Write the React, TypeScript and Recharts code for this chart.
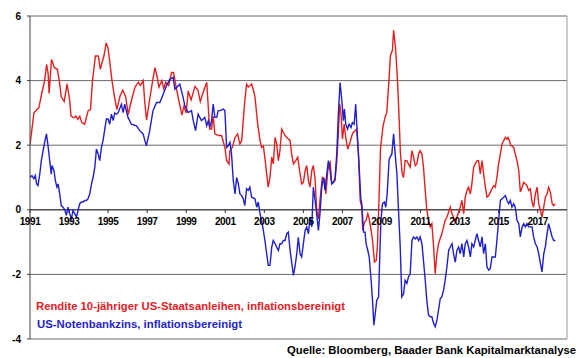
import React from 'react';
import { LineChart, Line, XAxis, YAxis, CartesianGrid, ReferenceLine, ReferenceDot } from 'recharts';

const FONT = '"Liberation Sans", Arial, Helvetica, sans-serif';

const xTickYears = [1991, 1993, 1995, 1997, 1999, 2001, 2003, 2005, 2007, 2009, 2011, 2013, 2015, 2017];
const yTicks = [-4, -2, 0, 2, 4, 6];
const xDomain = [1991, 2018.5];
const yDomain = [-4, 6];

const redName = 'Rendite 10-jähriger US-Staatsanleihen, inflationsbereinigt';
const blueName = 'US-Notenbankzins, inflationsbereinigt';
const sourceText = 'Quelle: Bloomberg, Baader Bank Kapitalmarktanalyse';

// [year, value] – real yield of 10y US Treasuries
const redSeries: [number, number][] = [
  [1991.0, 2.0], [1991.2, 3.0], [1991.35, 3.1], [1991.45, 3.15], [1991.6, 3.6], [1991.75, 4.0], [1991.85, 4.5],
  [1991.93, 4.2], [1991.98, 3.6], [1992.1, 4.65], [1992.25, 4.4], [1992.4, 4.35], [1992.5, 4.0], [1992.6, 3.5],
  [1992.75, 3.35], [1992.9, 3.9], [1993.03, 3.4], [1993.1, 2.9], [1993.25, 2.85], [1993.35, 2.9], [1993.45, 2.8],
  [1993.55, 2.9], [1993.65, 2.7], [1993.8, 2.65], [1993.98, 3.07], [1994.1, 3.1], [1994.2, 4.0], [1994.35, 4.76],
  [1994.5, 4.76], [1994.6, 4.35], [1994.8, 4.8], [1994.9, 5.17], [1995.0, 5.0], [1995.1, 4.5], [1995.2, 4.0],
  [1995.3, 3.6], [1995.45, 3.1], [1995.6, 3.5], [1995.75, 3.7], [1995.9, 3.5], [1996.03, 2.95], [1996.2, 3.4],
  [1996.38, 3.8], [1996.55, 3.95], [1996.65, 3.85], [1996.8, 4.0], [1996.88, 3.3], [1996.97, 2.78], [1997.15, 3.5],
  [1997.3, 4.07], [1997.4, 4.4], [1997.5, 4.15], [1997.6, 3.8], [1997.75, 4.0], [1997.85, 3.75], [1997.95, 3.95],
  [1998.1, 3.85], [1998.25, 4.25], [1998.35, 4.25], [1998.5, 3.75], [1998.65, 3.3], [1998.78, 2.93], [1998.88, 3.2],
  [1999.0, 3.0], [1999.1, 3.68], [1999.25, 3.4], [1999.45, 3.82], [1999.6, 3.7], [1999.72, 3.35], [1999.85, 3.6],
  [2000.05, 3.95], [2000.2, 2.5], [2000.3, 2.5], [2000.38, 2.9], [2000.47, 2.35], [2000.64, 2.3], [2000.81, 2.3],
  [2000.98, 1.93], [2001.07, 1.52], [2001.19, 1.42], [2001.24, 1.83], [2001.36, 1.93], [2001.5, 2.24], [2001.63, 2.35],
  [2001.75, 2.04], [2001.84, 2.14], [2002.0, 3.37], [2002.09, 3.89], [2002.18, 3.8], [2002.26, 3.84], [2002.35, 3.89],
  [2002.44, 3.7], [2002.52, 3.5], [2002.66, 2.65], [2002.78, 2.14], [2002.86, 1.93], [2002.95, 1.98], [2003.05, 1.5],
  [2003.12, 1.11], [2003.2, 0.7], [2003.29, 1.0], [2003.38, 1.63], [2003.46, 1.42], [2003.55, 2.24], [2003.63, 2.04],
  [2003.72, 1.52], [2003.8, 1.83], [2003.89, 2.5], [2003.97, 2.4], [2004.06, 2.3], [2004.23, 2.19], [2004.32, 2.14],
  [2004.4, 1.73], [2004.49, 1.42], [2004.61, 1.52], [2004.71, 1.63], [2004.83, 1.11], [2004.91, 0.8], [2005.0, 0.85],
  [2005.09, 1.21], [2005.17, 1.37], [2005.26, 0.9], [2005.34, 0.7], [2005.43, 1.21], [2005.51, 1.37], [2005.6, 0.96],
  [2005.68, 0.0], [2005.77, -0.28], [2005.85, 0.29], [2005.97, 1.0], [2006.08, 0.96], [2006.15, 0.49], [2006.25, 1.21],
  [2006.32, 1.42], [2006.37, 1.47], [2006.45, 0.85], [2006.54, 0.85], [2006.62, 0.9], [2006.71, 1.52], [2006.79, 2.35],
  [2006.86, 3.27], [2006.93, 2.96], [2007.0, 2.19], [2007.09, 2.65], [2007.17, 2.24], [2007.27, 1.88], [2007.39, 2.09],
  [2007.48, 2.29], [2007.56, 2.4], [2007.65, 2.45], [2007.73, 2.5], [2007.82, 1.73], [2007.91, 0.29], [2007.99, 0.08],
  [2008.04, -0.64], [2008.13, -0.38], [2008.21, -0.33], [2008.3, -0.12], [2008.37, -0.28], [2008.47, -0.64],
  [2008.54, -0.95], [2008.64, -1.62], [2008.73, -1.57], [2008.79, -1.15], [2008.85, -0.12], [2008.95, 1.9],
  [2009.08, 2.6], [2009.2, 2.9], [2009.27, 3.0], [2009.36, 3.8], [2009.46, 4.78], [2009.56, 4.94], [2009.62, 5.56],
  [2009.72, 5.0], [2009.82, 4.0], [2009.9, 2.87], [2009.97, 1.75], [2010.06, 1.11], [2010.13, 1.0], [2010.21, 1.52],
  [2010.3, 1.52], [2010.38, 1.42], [2010.47, 1.32], [2010.56, 1.83], [2010.64, 1.63], [2010.73, 1.37], [2010.81, 1.42],
  [2010.9, 1.73], [2010.98, 1.83], [2011.07, 1.73], [2011.15, 1.32], [2011.24, 0.6], [2011.32, 0.0], [2011.41, -0.33],
  [2011.5, -0.53], [2011.58, -0.43], [2011.67, -1.15], [2011.75, -1.98], [2011.84, -1.36], [2011.92, -1.05],
  [2012.0, -0.9], [2012.09, -0.74], [2012.18, -0.53], [2012.26, -0.33], [2012.35, -0.23], [2012.44, -0.07],
  [2012.52, 0.08], [2012.61, -0.12], [2012.69, -0.23], [2012.78, -0.43], [2012.86, -0.23], [2012.95, -0.07],
  [2013.03, 0.08], [2013.12, 0.29], [2013.21, -0.12], [2013.29, 0.39], [2013.38, 0.6], [2013.46, 0.7], [2013.55, 0.49],
  [2013.63, 0.8], [2013.72, 1.32], [2013.8, 1.42], [2013.89, 1.52], [2013.97, 1.52], [2014.06, 1.11], [2014.15, 1.52],
  [2014.23, 1.11], [2014.32, 0.7], [2014.4, 0.39], [2014.49, 0.44], [2014.57, 0.54], [2014.66, 0.65], [2014.74, 0.75],
  [2014.83, 0.7], [2014.91, 1.0], [2015.0, 1.42], [2015.09, 1.73], [2015.17, 2.04], [2015.26, 2.14], [2015.34, 2.24],
  [2015.43, 2.19], [2015.48, 2.24], [2015.55, 2.14], [2015.63, 1.98], [2015.68, 1.98], [2015.77, 1.93], [2015.85, 1.73],
  [2015.94, 1.52], [2016.03, 1.21], [2016.11, 0.55], [2016.2, 0.7], [2016.28, 0.85], [2016.37, 0.8], [2016.45, 0.75],
  [2016.54, 0.6], [2016.62, 0.65], [2016.71, 0.24], [2016.79, 0.08], [2016.88, 0.49], [2016.97, 0.7], [2017.05, 0.19],
  [2017.14, -0.02], [2017.22, -0.23], [2017.31, 0.08], [2017.39, 0.39], [2017.48, 0.49], [2017.56, 0.7], [2017.65, 0.54],
  [2017.74, 0.19], [2017.82, 0.13], [2017.9, 0.19],
];

// [year, value] – real Fed funds rate
const blueSeries: [number, number][] = [
  [1991.0, 1.0], [1991.1, 1.06], [1991.2, 0.96], [1991.27, 1.06], [1991.34, 0.8], [1991.41, 0.75], [1991.5, 1.1],
  [1991.58, 1.52], [1991.67, 1.83], [1991.75, 2.09], [1991.84, 2.35], [1991.92, 2.0], [1992.01, 1.52], [1992.09, 1.1],
  [1992.13, 1.37], [1992.23, 1.21], [1992.3, 0.9], [1992.38, 0.7], [1992.44, 0.8], [1992.52, 0.49], [1992.6, 0.13],
  [1992.69, 0.08], [1992.78, 0.0], [1992.86, -0.17], [1992.95, 0.08], [1993.03, -0.12], [1993.12, -0.28],
  [1993.2, -0.02], [1993.29, -0.12], [1993.38, -0.23], [1993.46, -0.02], [1993.55, 0.19], [1993.63, 0.24],
  [1993.72, 0.24], [1993.8, 0.29], [1993.89, 0.29], [1993.97, 0.34], [1994.06, 0.49], [1994.15, 0.8], [1994.23, 1.0],
  [1994.32, 1.32], [1994.4, 1.88], [1994.49, 1.73], [1994.57, 1.52], [1994.66, 1.93], [1994.74, 2.14], [1994.83, 2.5],
  [1994.91, 2.81], [1995.0, 2.81], [1995.08, 2.65], [1995.17, 2.96], [1995.26, 2.76], [1995.34, 3.0], [1995.43, 2.96],
  [1995.51, 3.0], [1995.68, 3.27], [1995.77, 3.01], [1995.85, 3.27], [1996.02, 2.86], [1996.19, 2.65], [1996.45, 2.6],
  [1996.62, 2.45], [1996.79, 2.35], [1996.96, 1.98], [1997.13, 2.45], [1997.3, 3.07], [1997.48, 3.32], [1997.65, 3.32],
  [1997.82, 3.58], [1997.99, 3.84], [1998.16, 4.04], [1998.33, 4.1], [1998.42, 3.73], [1998.59, 3.84], [1998.67, 3.89],
  [1998.84, 3.48], [1998.93, 3.22], [1999.1, 3.01], [1999.27, 3.07], [1999.36, 2.76], [1999.48, 2.45], [1999.61, 2.96],
  [1999.78, 2.76], [1999.95, 2.86], [2000.05, 2.6], [2000.13, 2.76], [2000.21, 2.55], [2000.3, 2.76], [2000.38, 3.27],
  [2000.47, 2.86], [2000.56, 2.86], [2000.64, 3.07], [2000.73, 3.07], [2000.9, 3.12], [2000.98, 3.07], [2001.07, 1.93],
  [2001.15, 1.98], [2001.24, 2.09], [2001.32, 1.73], [2001.41, 0.9], [2001.5, 0.49], [2001.58, 1.0], [2001.67, 0.8],
  [2001.75, 0.49], [2001.84, 0.44], [2001.92, 0.34], [2002.0, 0.13], [2002.09, 0.65], [2002.18, 0.6], [2002.26, 0.7],
  [2002.35, 0.39], [2002.52, 0.34], [2002.61, 0.08], [2002.69, 0.24], [2002.78, -0.12], [2002.86, -0.33],
  [2002.95, -0.64], [2003.03, -0.95], [2003.12, -1.36], [2003.2, -1.72], [2003.29, -1.72], [2003.38, -1.15],
  [2003.46, -0.95], [2003.55, -1.05], [2003.63, -1.15], [2003.72, -1.26], [2003.8, -1.05], [2003.89, -1.05],
  [2003.97, -0.95], [2004.06, -0.95], [2004.15, -0.74], [2004.23, -0.69], [2004.32, -1.26], [2004.4, -1.62],
  [2004.49, -2.03], [2004.57, -1.77], [2004.66, -1.36], [2004.74, -0.85], [2004.83, -1.36], [2004.91, -1.46],
  [2005.0, -1.05], [2005.09, -0.64], [2005.17, -0.53], [2005.26, -0.74], [2005.34, -0.23], [2005.43, -0.53],
  [2005.51, 0.7], [2005.6, 0.29], [2005.68, -0.12], [2005.77, -0.64], [2005.85, -0.12], [2005.94, 0.7], [2006.03, 1.0],
  [2006.11, 0.6], [2006.2, 1.11], [2006.28, 1.52], [2006.37, 1.21], [2006.45, 0.8], [2006.54, 0.85], [2006.62, 0.96],
  [2006.71, 1.73], [2006.79, 2.96], [2006.88, 3.94], [2006.97, 3.37], [2007.05, 2.76], [2007.1, 3.12], [2007.17, 2.65],
  [2007.26, 2.5], [2007.34, 2.65], [2007.44, 2.55], [2007.51, 2.7], [2007.6, 2.65], [2007.68, 3.27], [2007.77, 2.24],
  [2007.85, 1.42], [2007.94, 0.34], [2007.99, 0.19], [2008.08, -0.69], [2008.16, -0.69], [2008.21, -1.05],
  [2008.3, -1.26], [2008.37, -1.46], [2008.47, -2.18], [2008.54, -2.8], [2008.61, -3.57], [2008.68, -3.21],
  [2008.76, -2.8], [2008.85, -2.7], [2008.9, -1.67], [2008.97, -0.33], [2009.05, 0.19], [2009.15, 0.24],
  [2009.22, 0.08], [2009.29, 0.49], [2009.39, 1.55], [2009.44, 1.63], [2009.53, 1.73], [2009.62, 2.35], [2009.7, 1.73],
  [2009.79, 1.11], [2009.87, 0.0], [2009.96, -1.15], [2010.04, -2.7], [2010.13, -2.6], [2010.21, -2.18],
  [2010.3, -2.28], [2010.38, -2.08], [2010.47, -1.98], [2010.56, -0.95], [2010.64, -0.84], [2010.73, -0.9],
  [2010.81, -0.84], [2010.9, -0.95], [2010.98, -0.84], [2011.07, -1.05], [2011.15, -1.57], [2011.24, -2.18],
  [2011.32, -2.8], [2011.41, -3.26], [2011.5, -3.31], [2011.58, -3.31], [2011.67, -3.52], [2011.75, -3.62],
  [2011.84, -3.41], [2011.92, -3.11], [2012.01, -2.75], [2012.09, -2.7], [2012.18, -2.49], [2012.26, -2.18],
  [2012.35, -1.77], [2012.44, -1.26], [2012.52, -1.15], [2012.61, -1.05], [2012.69, -1.36], [2012.78, -1.62],
  [2012.86, -1.26], [2012.95, -1.15], [2013.03, -1.36], [2013.12, -1.05], [2013.21, -1.46], [2013.29, -1.05],
  [2013.38, -0.95], [2013.46, -1.15], [2013.55, -1.46], [2013.63, -1.05], [2013.72, -1.15], [2013.8, -0.95],
  [2013.89, -0.74], [2013.97, -0.95], [2014.06, -1.15], [2014.15, -0.84], [2014.23, -1.36], [2014.32, -1.05],
  [2014.4, -1.77], [2014.49, -1.87], [2014.57, -1.82], [2014.66, -1.46], [2014.74, -1.46], [2014.83, -1.46],
  [2014.91, -0.95], [2015.0, -0.33], [2015.09, 0.29], [2015.17, 0.34], [2015.26, 0.39], [2015.34, 0.44],
  [2015.43, 0.29], [2015.51, 0.19], [2015.6, 0.29], [2015.68, 0.08], [2015.77, 0.19], [2015.85, 0.08],
  [2015.94, -0.33], [2016.03, -0.43], [2016.11, -0.84], [2016.2, -0.53], [2016.28, -0.43], [2016.37, -0.53],
  [2016.45, -0.43], [2016.54, -0.53], [2016.62, -0.53], [2016.71, -0.53], [2016.79, -0.84], [2016.88, -1.05],
  [2016.97, -1.15], [2017.05, -1.36], [2017.14, -1.67], [2017.22, -1.92], [2017.31, -1.36], [2017.39, -1.15],
  [2017.48, -0.74], [2017.56, -0.43], [2017.65, -0.64], [2017.74, -0.84], [2017.82, -0.95], [2017.9, -0.95],
];

const redData = redSeries.map(([t, v]) => ({ t, v }));
const blueData = blueSeries.map(([t, v]) => ({ t, v }));

const RED = '#e3201f';
const BLUE = '#1f1fcc';

export default function App() {
  return (
    <div style={{ position: 'absolute', left: 0, top: 0, width: 580, height: 358, background: '#fff' }}>
      <LineChart width={580} height={358} margin={{ top: 16, right: 13, bottom: 19, left: 0 }}>
        <CartesianGrid horizontal vertical={false} stroke="#6a6a6a" />
        <XAxis type="number" dataKey="t" domain={xDomain} hide allowDataOverflow />
        <YAxis
          type="number"
          domain={yDomain}
          ticks={yTicks}
          interval={0}
          width={30}
          tickSize={3}
          tickMargin={6}
          axisLine={{ stroke: '#404040' }}
          tickLine={{ stroke: '#404040' }}
          tick={{ fontSize: 10, fontWeight: 'bold', fill: '#000', fontFamily: FONT }}
        />
        <ReferenceLine x={xDomain[1]} stroke="#9a9a9a" />
        <ReferenceLine y={0} stroke="#303030" />
        {xTickYears.map((yr) => (
          <ReferenceLine key={'tl' + yr} segment={[{ x: yr, y: 0 }, { x: yr, y: -0.1 }]} stroke="#303030" />
        ))}
        {xTickYears.map((yr) => (
          <ReferenceDot
            key={'lb' + yr}
            x={yr}
            y={0}
            r={0}
            fill="none"
            stroke="none"
            label={{
              value: String(yr),
              position: 'bottom',
              offset: 8,
              fontSize: 10,
              fontWeight: 'bold',
              fill: '#000',
              fontFamily: FONT,
              letterSpacing: -0.4,
            }}
          />
        ))}
        <Line data={redData} dataKey="v" type="linear" stroke={RED} strokeWidth={1.4} dot={false} isAnimationActive={false} />
        <Line data={blueData} dataKey="v" type="linear" stroke={BLUE} strokeWidth={1.4} dot={false} isAnimationActive={false} />
      </LineChart>
      <svg width={580} height={358} style={{ position: 'absolute', left: 0, top: 0, pointerEvents: 'none' }}>
        <text x={36} y={310} fontSize={11} fontWeight="bold" fill={RED} fontFamily={FONT} textLength={309} lengthAdjust="spacingAndGlyphs">
          {redName}
        </text>
        <text x={37} y={328} fontSize={11} fontWeight="bold" fill={BLUE} fontFamily={FONT} textLength={205} lengthAdjust="spacingAndGlyphs">
          {blueName}
        </text>
        <text x={287} y={354} fontSize={11} fontWeight="bold" fill="#000" fontFamily={FONT} textLength={289} lengthAdjust="spacingAndGlyphs">
          {sourceText}
        </text>
      </svg>
    </div>
  );
}
